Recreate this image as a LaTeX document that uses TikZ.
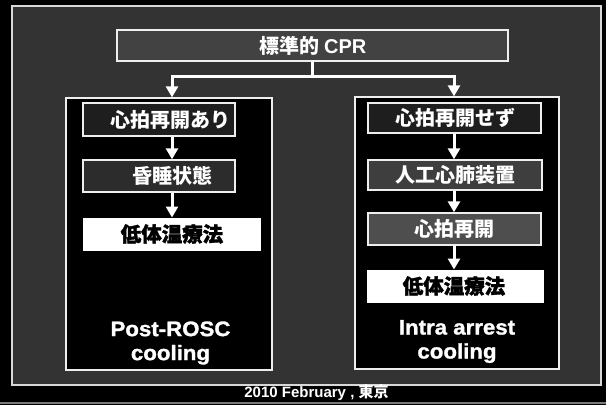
\documentclass[tikz,border=0pt]{standalone}
\usepackage{fontspec}
\setmainfont{Liberation Sans}
\newfontfamily\cjk{Noto Sans CJK JP}
\newfontfamily\cjkheavy{Noto Sans CJK JP}[BoldFeatures={FakeBold=1.6}]
\newfontfamily\widefont{Liberation Sans}[FakeStretch=1.06, BoldFeatures={FakeBold=1.3}]
\usetikzlibrary{arrows.meta}
\definecolor{framebg}{HTML}{333333}
\definecolor{frameline}{HTML}{D8D8D8}
\definecolor{boxline}{HTML}{EEEEEE}
\definecolor{gA}{HTML}{424242}
\definecolor{gB}{HTML}{1E1E1E}
\definecolor{gC}{HTML}{2C2C2C}
\definecolor{gD}{HTML}{3E3E3E}
\definecolor{gE}{HTML}{4E4E4E}
\definecolor{scanline}{HTML}{7A7A7A}
\tikzset{
  framebox/.style={draw=frameline, line width=1.3pt, fill=framebg, rectangle, inner sep=0pt},
  panel/.style={draw=boxline, line width=1.3pt, fill=black, rectangle, inner sep=0pt},
  gbox/.style={draw=boxline, line width=1.4pt, rectangle, inner sep=0pt},
  wbox/.style={draw=white, line width=1pt, fill=white, rectangle, inner sep=0pt},
  jtext/.style={text=white, font=\cjk\bfseries\fontsize{20}{24}\selectfont, inner sep=0pt},
  htext/.style={text=black, font=\cjkheavy\bfseries\fontsize{20.5}{24}\selectfont, inner sep=0pt},
  etext/.style={text=white, font=\widefont\bfseries\fontsize{21}{24}\selectfont, align=center, inner sep=0pt},
  conn/.style={draw=white, line width=3pt},
  arr/.style={draw=white, line width=3pt, -{Triangle[width=12pt,length=11pt]}},
}
\begin{document}
\begin{tikzpicture}[x=1pt,y=-1pt]
\useasboundingbox (0,0) rectangle (606,405);
\fill[black] (0,0) rectangle (606,405);
\draw[scanline, line width=1.2pt] (0,403) -- (606,403);

% outer frame
\node[framebox, minimum width=589pt, minimum height=379pt] (frame) at (306.5,195.5) {};

% panels
\node[panel, minimum width=206pt, minimum height=272pt] (lp) at (169,234) {};
\node[panel, minimum width=204pt, minimum height=272pt] (rp) at (457,233) {};

% top box
\node[gbox, fill=gA, minimum width=391pt, minimum height=31pt] (top) at (312.5,45.5) {};
\node[jtext] (toptxt) at (313,45.5) {標準的 {\rmfamily\bfseries CPR}};

% left column boxes
\node[gbox, fill=gB, minimum width=152pt, minimum height=33pt] (l1) at (159,119.5) {};
\node[jtext] (l1txt) at (170.5,119.5) {心拍再開あり};
\node[gbox, fill=gC, minimum width=152pt, minimum height=32pt] (l2) at (159,176) {};
\node[jtext] (l2txt) at (172,176) {昏睡状態};
\node[wbox, minimum width=177pt, minimum height=32pt] (l3) at (171.5,234) {};
\node[htext] (l3txt) at (172,234) {低体温療法};

% right column boxes
\node[gbox, fill=gB, minimum width=173pt, minimum height=30pt] (r1) at (454.5,118) {};
\node[jtext] (r1txt) at (455,118) {心拍再開せず};
\node[gbox, fill=gD, minimum width=174pt, minimum height=30pt] (r2) at (455,175) {};
\node[jtext] (r2txt) at (455,175) {人工心肺装置};
\node[gbox, fill=gE, minimum width=173pt, minimum height=32pt] (r3) at (454.5,229) {};
\node[jtext] (r3txt) at (454,229) {心拍再開};
\node[wbox, minimum width=176pt, minimum height=32pt] (r4) at (455,286) {};
\node[htext] (r4txt) at (454,286) {低体温療法};

% bottom labels
\node[etext] (ltag) at (170.5,343) {Post-ROSC\\cooling};
\node[etext] (rtag) at (457,341.5) {Intra arrest\\cooling};

% footer
\node[text=white, font=\bfseries\fontsize{15}{18}\selectfont, inner sep=0pt] (foot) at (316.5,393)
  {2010 February , {\cjk\bfseries 東京}};

% connectors
\coordinate (j) at (312.5,76);
\coordinate (ax) at (172,0);
\coordinate (bx) at (454,0);
\draw[conn] (top.south) -- (j);
\draw[arr, line join=miter] (j) -| (lp.north -| ax);
\draw[arr, line join=miter] (j) -| (rp.north -| bx);

\draw[arr] (l1.south -| ax) -- (l2.north -| ax);
\draw[arr] (l2.south -| ax) -- (l3.north -| ax);

\draw[arr] (r1.south -| bx) -- (r2.north -| bx);
\draw[arr] (r2.south -| bx) -- (r3.north -| bx);
\draw[arr] (r3.south -| bx) -- (r4.north -| bx);
\end{tikzpicture}
\end{document}
